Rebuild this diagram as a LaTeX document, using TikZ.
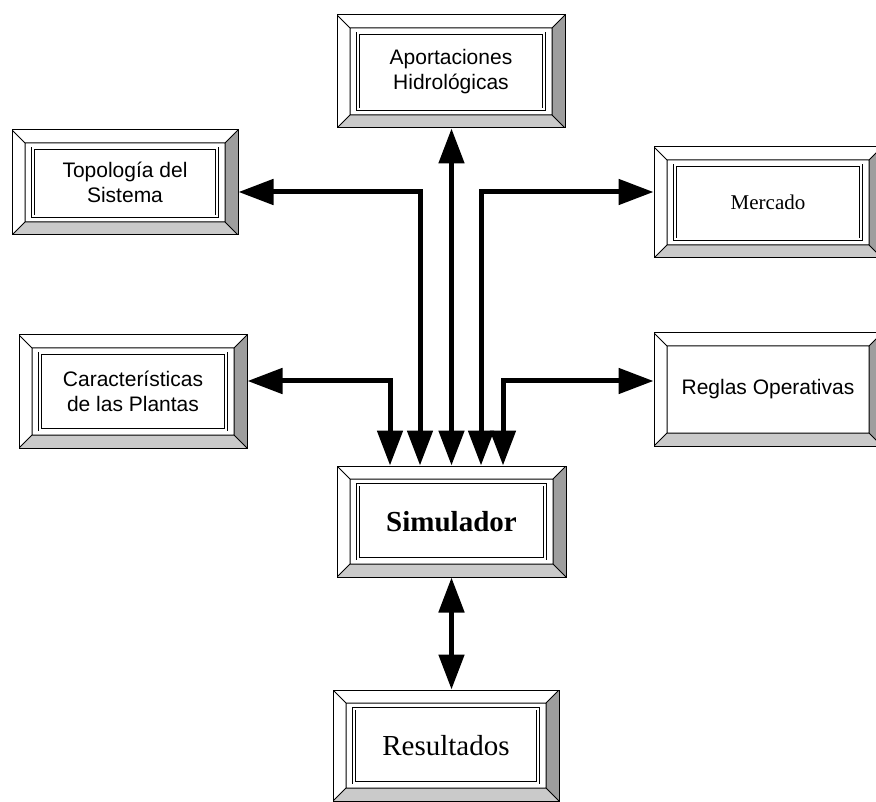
\documentclass[tikz,border=0pt]{standalone}
\usepackage{fontspec}
\usetikzlibrary{arrows.meta,calc}
\newfontfamily\sansf{Liberation Sans}
\newfontfamily\seriff{Liberation Serif}
\definecolor{bevdark}{RGB}{158,158,158}
\definecolor{bevlight}{RGB}{202,202,202}
\newcommand\bevdraw{%
 \coordinate (bvsw) at (path picture bounding box.south west);
 \coordinate (bvne) at (path picture bounding box.north east);
 \coordinate (bvnw) at (bvsw |- bvne);
 \coordinate (bvse) at (bvne |- bvsw);
 \coordinate (bisw) at ([shift={(13pt,13pt)}]bvsw);
 \coordinate (bine) at ([shift={(-13pt,-13pt)}]bvne);
 \coordinate (binw) at (bisw |- bine);
 \coordinate (bise) at (bine |- bisw);
 \fill[bevdark] (bvne) -- (bvse) -- (bise) -- (bine) -- cycle;
 \fill[bevlight] (bvsw) -- (bvse) -- (bise) -- (bisw) -- cycle;
 \draw[line width=1pt] (bvsw) -- (bisw) (bvse) -- (bise) (bvnw) -- (binw) (bvne) -- (bine) (bisw) rectangle (bine);
}
\newcommand\framedraw{%
 \draw[line width=0.9pt, double=white, double distance=2pt] ([shift={(21pt,18.5pt)}]bvsw) rectangle ([shift={(-21pt,-18.5pt)}]bvne);
}
\tikzset{
 bevelbox/.style={draw, line width=1pt, rectangle, inner sep=0pt, align=center, text=black, path picture={\bevdraw}},
 framebox/.style={bevelbox, path picture={\bevdraw\framedraw}},
 sanstxt/.style={font=\sansf\fontsize{21}{25}\selectfont},
 seriftxt/.style={font=\seriff\fontsize{21}{25}\selectfont},
 bigtxt/.style={font=\seriff\fontsize{29}{33}\selectfont},
 conn/.style={line width=5pt, {Triangle[length=35pt,width=25pt]}-{Triangle[length=35pt,width=25pt]}}
}
\begin{document}
\begin{tikzpicture}[x=1pt,y=-1pt]
\useasboundingbox (0,0) rectangle (876,802);
\node[framebox, sanstxt, minimum width=228, minimum height=113] (aport) at (451,71.5) {Aportaciones\\Hidrológicas};
\node[framebox, sanstxt, minimum width=226, minimum height=105] (topo) at (125,182.5) {Topología del\\Sistema};
\node[framebox, seriftxt, minimum width=228, minimum height=111] (merc) at (768,202.5) {Mercado};
\node[framebox, sanstxt, minimum width=228, minimum height=113] (carac) at (133,391.5) {Características\\de las Plantas};
\node[bevelbox, sanstxt, minimum width=228, minimum height=113] (reglas) at (768,389.5) {Reglas Operativas};
\node[framebox, bigtxt, minimum width=229, minimum height=111] (sim) at (451.5,521.5) {\bfseries Simulador};
\node[framebox, bigtxt, minimum width=226, minimum height=111] (res) at (446,745.5) {Resultados};
\coordinate (t1) at ([xshift=-61.5]sim.north);
\coordinate (t2) at ([xshift=-31.5]sim.north);
\coordinate (t3) at (sim.north);
\coordinate (t4) at ([xshift=29.5]sim.north);
\coordinate (t5) at ([xshift=51.5]sim.north);
\coordinate (h1) at (0,192);
\coordinate (h2) at (0,381);
\draw[conn] (t2) |- (topo.east |- h1);
\draw[conn] (t4) |- (merc.west |- h1);
\draw[conn] (t1) |- (carac.east |- h2);
\draw[conn] (t5) |- (reglas.west |- h2);
\draw[conn] (t3) -- (t3 |- aport.south);
\draw[conn] (sim.south) -- (sim.south |- res.north);
\end{tikzpicture}
\end{document}
